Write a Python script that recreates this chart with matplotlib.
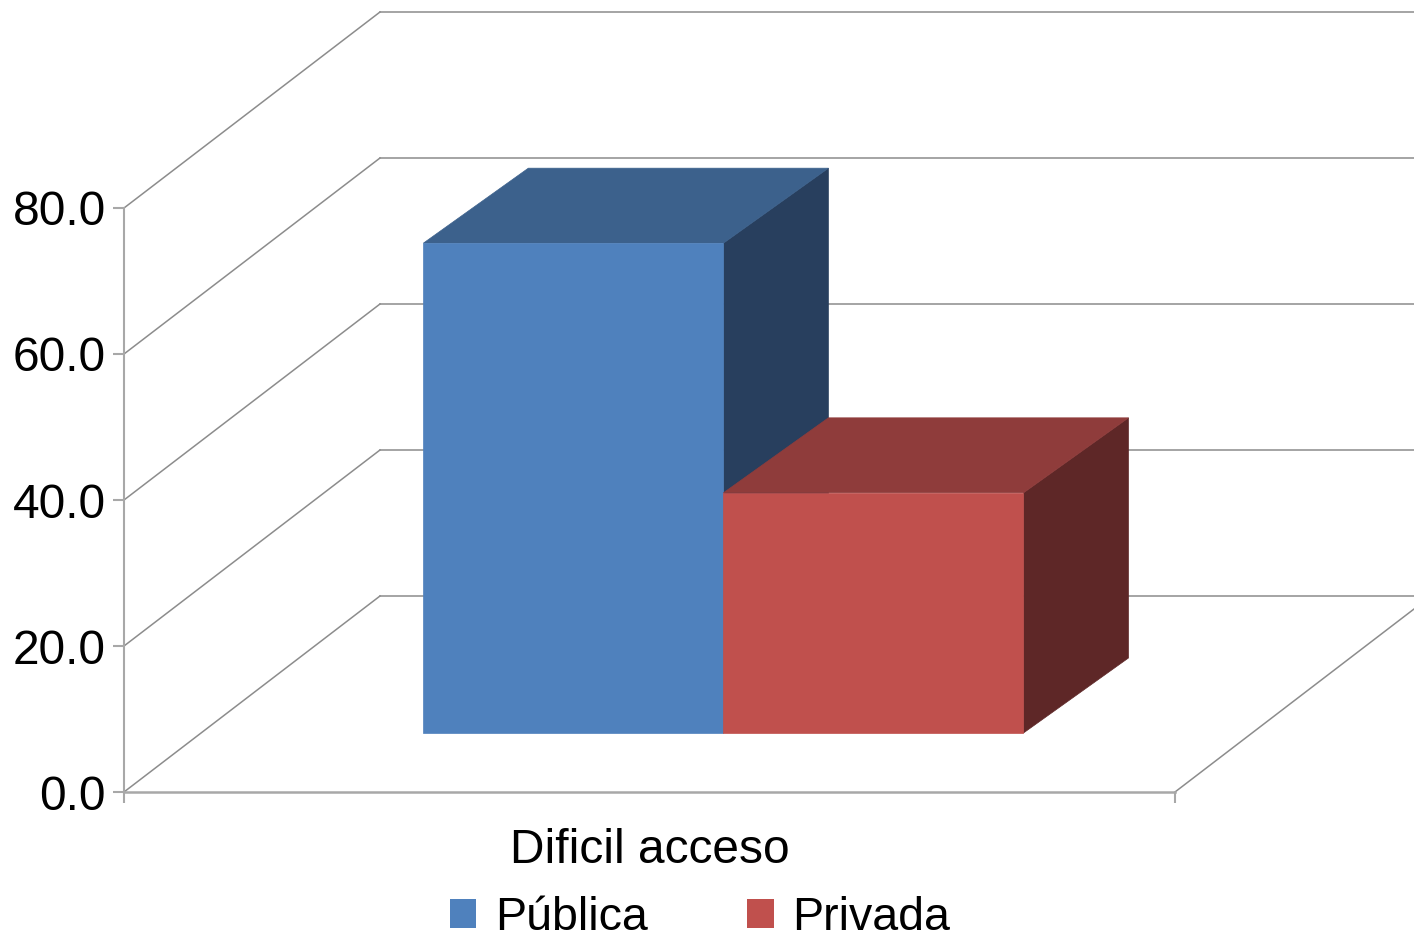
import matplotlib
matplotlib.use("Agg")
import matplotlib.pyplot as plt
from matplotlib.patches import Polygon, Patch

plt.rcParams["font.family"] = ["Liberation Sans", "DejaVu Sans"]

# ---------- DATOS ----------
CATEGORY = "Dificil acceso"
SERIES = ["Pública", "Privada"]
VALUES = [67.1, 32.9]
Y_TICKS = [0, 20, 40, 60, 80]
Y_TICK_LABELS = ["0.0", "20.0", "40.0", "60.0", "80.0"]

# colores: frente, tapa, lado
FRONT_COLORS = ["#4F81BD", "#3C618C", "#283F5E"]
BACK_COLORS = ["#C0504D", "#8F3C3B", "#5E2727"]
BAR_COLORS = [FRONT_COLORS, BACK_COLORS]

GRID_COLOR = "#8c8c8c"
AXIS_COLOR = "#a8a8a8"

# ---------- GEOMETRÍA (pseudo 3D) ----------
W_PX, H_PX = 1414, 939
LEFT_PX, RIGHT_PX = 124, 1175
ZERO_PX, TOP_PX = 792, 208
PX_PER_UNIT = (ZERO_PX - TOP_PX) / 80

DX = 256 / (RIGHT_PX - LEFT_PX)      # desplazamiento de profundidad (x)
DY = 196 / PX_PER_UNIT               # desplazamiento de profundidad (y)

BAR_Z = 59 / 196                      # profundidad de la cara frontal
BAR_W = 0.2855                        # ancho de cada barra
BAR_CENTER = 0.497
BAR_DX = 105 / (RIGHT_PX - LEFT_PX)  # profundidad propia de la barra
BAR_DY = 75 / PX_PER_UNIT


def proj(x, y, z):
    return (x + z * DX, y + z * DY)


fig = plt.figure(figsize=(W_PX / 100, H_PX / 100), dpi=100)
ax = fig.add_axes([LEFT_PX / W_PX, (H_PX - ZERO_PX) / H_PX,
                   (RIGHT_PX - LEFT_PX) / W_PX, (ZERO_PX - TOP_PX) / H_PX])
ax.set_xlim(0, 1)
ax.set_ylim(0, 80)

# pared trasera y pared izquierda
for v in Y_TICKS:
    bx0, by = proj(0, v, 1)
    bx1, _ = proj(1, v, 1)
    ax.plot([bx0, bx1], [by, by], color=GRID_COLOR, lw=1.1, clip_on=False, zorder=1)
    ax.plot([0, bx0], [v, by], color=GRID_COLOR, lw=1.1, clip_on=False, zorder=1)

# borde derecho del piso
fx, fy = proj(1, 0, 1)
ax.plot([1, fx], [0, fy], color=GRID_COLOR, lw=1.1, clip_on=False, zorder=1)

# barras
group_w = BAR_W * len(VALUES)
x_start = BAR_CENTER - group_w / 2
for i, (val, cols) in enumerate(zip(VALUES, BAR_COLORS)):
    x0, y0 = proj(x_start + i * BAR_W, 0, BAR_Z)
    x1 = x0 + BAR_W
    y1 = y0 + val
    front = [(x0, y0), (x1, y0), (x1, y1), (x0, y1)]
    top = [(x0, y1), (x1, y1), (x1 + BAR_DX, y1 + BAR_DY), (x0 + BAR_DX, y1 + BAR_DY)]
    side = [(x1, y0), (x1 + BAR_DX, y0 + BAR_DY), (x1 + BAR_DX, y1 + BAR_DY), (x1, y1)]
    # lado y tapa primero, el frente encima
    for pts, c in [(side, cols[2]), (top, cols[1]), (front, cols[0])]:
        ax.add_patch(Polygon(pts, closed=True, facecolor=c, edgecolor=c, lw=0.5,
                             clip_on=False, zorder=3 + i))

# ejes
for s in ["top", "right"]:
    ax.spines[s].set_visible(False)
ax.spines["left"].set_color(AXIS_COLOR)
ax.spines["left"].set_linewidth(1.5)
ax.spines["bottom"].set_color(AXIS_COLOR)
ax.spines["bottom"].set_linewidth(1.8)

ax.set_yticks(Y_TICKS)
ax.set_yticklabels(Y_TICK_LABELS)
ax.tick_params(axis="y", direction="out", length=8, width=1.5, color=AXIS_COLOR,
               labelsize=34.5, pad=5)

ax.set_xticks([0, 1])
ax.set_xticklabels(["", ""])
ax.tick_params(axis="x", which="major", direction="out", length=8, width=1.5,
               color=AXIS_COLOR)
ax.set_xticks([0.5], minor=True)
ax.set_xticklabels([CATEGORY], minor=True)
ax.tick_params(axis="x", which="minor", length=0, labelsize=34.5, pad=26)

# leyenda
handles = [Patch(facecolor=c[0], edgecolor="none") for c in BAR_COLORS]
fig.legend(handles, SERIES, loc="center", bbox_to_anchor=(700 / W_PX, 1 - 918 / H_PX),
           ncol=2, frameon=False, fontsize=33.5, handlelength=0.56, handleheight=0.56,
           handletextpad=0.4, columnspacing=2.15, borderpad=0, borderaxespad=0)

fig.savefig("out.png", dpi=100, facecolor="white")
